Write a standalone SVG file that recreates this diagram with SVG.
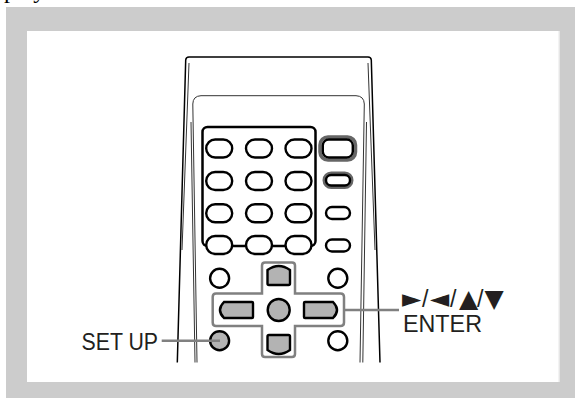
<svg xmlns="http://www.w3.org/2000/svg" width="575" height="398" viewBox="0 0 575 398">
<style>
.t{font-family:"Liberation Sans",Arial,sans-serif;font-size:23.3px;fill:#231f20}
.s{font-family:"DejaVu Sans",sans-serif;font-size:25px}
.b{fill:#fff;stroke:#000;stroke-width:2.4}
.g{fill:#b3b3b3;stroke:#000;stroke-width:2.4}
.o{fill:none;stroke:#000;stroke-width:1.5}
.o2{fill:none;stroke:#333;stroke-width:1}
.c{fill:none;stroke:#808080;stroke-width:2.4}
</style>
<rect width="575" height="398" fill="#fff"/>
<text x="4" y="-2" font-family="Liberation Serif,serif" font-size="24" fill="#000">play</text>
<rect x="6" y="7" width="569" height="391" fill="#ccc"/>
<rect x="27" y="31" width="533" height="351" fill="#e6e6e6"/>
<rect x="27" y="31" width="531.500" height="351" fill="#fff"/>
<g id="remote-body">
<path class="o" d="M177.300 362.500L185.700 60Q186 57 189 57L368 57Q371 57 371.300 60L380 362.500"/>
<path class="o2" d="M189 63L182 250M368 63L375 250"/>
<path class="o2" d="M197 362.500L192.800 104Q193 96 201 95.700L356 95.700Q364 96 364.300 104L360 362.500"/>
<path class="o2" d="M195 362.500L191 122M362.800 362.500L366.500 122" stroke-width="1.200"/>
</g>
<g id="number-pad">
<rect x="202.500" y="127" width="113" height="119" rx="5" fill="#fff" stroke="#000" stroke-width="2.500"/>
<rect class="b" x="206.200" y="139.500" width="26" height="18" rx="9"/>
<rect class="b" x="246" y="139.500" width="26" height="18" rx="9"/>
<rect class="b" x="285.500" y="139.500" width="26" height="18" rx="9"/>
<rect class="b" x="206.200" y="172" width="26" height="18" rx="9"/>
<rect class="b" x="246" y="172" width="26" height="18" rx="9"/>
<rect class="b" x="285.500" y="172" width="26" height="18" rx="9"/>
<rect class="b" x="206.200" y="204.300" width="26" height="18" rx="9"/>
<rect class="b" x="246" y="204.300" width="26" height="18" rx="9"/>
<rect class="b" x="285.500" y="204.300" width="26" height="18" rx="9"/>
<rect class="b" x="206.200" y="236" width="26" height="18" rx="9"/>
<rect class="b" x="246" y="236" width="26" height="18" rx="9"/>
<rect class="b" x="285.500" y="236" width="26" height="18" rx="9"/>
</g>
<g id="side-buttons">
<rect x="320" y="137" width="35.500" height="23" rx="8" fill="#fff" stroke="#666" stroke-width="3.500"/>
<rect x="322.800" y="139.500" width="30" height="18" rx="6" fill="none" stroke="#000" stroke-width="2.400"/>
<rect x="324" y="173" width="28" height="14.500" rx="7.200" fill="#fff" stroke="#666" stroke-width="3"/>
<rect x="326" y="175" width="24" height="10.500" rx="5.200" fill="none" stroke="#000" stroke-width="2.400"/>
<rect class="b" x="326" y="207" width="24" height="12" rx="6"/>
<rect class="b" x="326" y="239.500" width="24" height="12" rx="6"/>
</g>
<g id="round-buttons">
<circle class="b" cx="219.600" cy="278.300" r="9.500"/>
<circle class="b" cx="337.800" cy="278.300" r="9.500"/>
<circle class="b" cx="337.800" cy="340.700" r="9.500"/>
</g>
<g id="dpad">
<path d="M262 293.500V265.500Q262 262.500 265 262.500H292Q295 262.500 295 265.500V293.500H340.500Q344 293.500 344 297V322.500Q344 326 340.500 326H295V354Q295 357 292 357H265Q262 357 262 354V326H216Q212.700 326 212.700 322.500V297Q212.700 293.500 216 293.500Z" fill="#fff" stroke="#808080" stroke-width="2.500"/>
<path class="g" d="M267.500 270Q278.700 262 290 270V283.500Q290 285 288.500 285H269Q267.500 285 267.500 283.500Z"/>
<path class="g" d="M267.500 336.500Q267.500 335 269 335H288.500Q290 335 290 336.500V350Q278.700 358 267.500 350Z"/>
<path class="g" d="M224 302H252Q253 302 253 303V317Q253 318 252 318H224Q216 310 224 302Z"/>
<path class="g" d="M305 302H333Q341 310 333 318H305Q304 318 304 317V303Q304 302 305 302Z"/>
<circle class="g" cx="278.700" cy="310" r="11"/>
</g>
<g id="setup-button"><circle class="g" cx="219.600" cy="340.700" r="9.500"/></g>
<g id="connectors">
<path class="c" d="M161.700 340.700H220"/>
<path class="c" d="M344 310H399"/>
</g>
<g id="labels">
<text class="t" x="81.500" y="350" textLength="76.500" lengthAdjust="spacingAndGlyphs">SET UP</text>
<text class="t" y="306.500"><tspan class="s" x="402">►</tspan><tspan x="422">/</tspan><tspan class="s" x="430">◄</tspan><tspan x="450">/</tspan><tspan class="s" x="459">▲</tspan><tspan x="477">/</tspan><tspan class="s" x="484.500">▼</tspan></text>
<text class="t" x="403" y="331.500">ENTER</text>
</g>
</svg>
